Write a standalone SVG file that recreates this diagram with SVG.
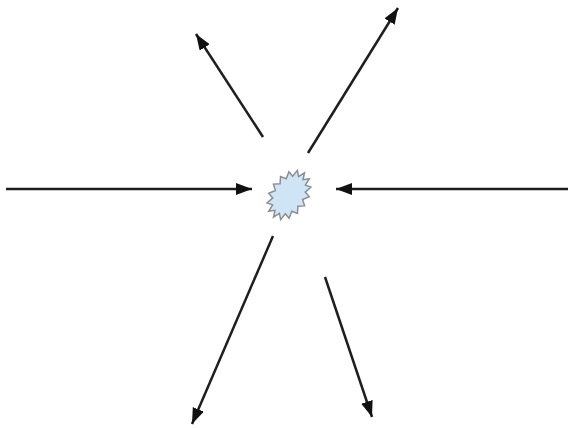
<svg xmlns="http://www.w3.org/2000/svg" width="571" height="428" viewBox="0 0 571 428">
  <style>
    .arrow { stroke: #1e1e1e; stroke-width: 2.5; fill: none; marker-end: url(#head); }
    .burst { fill: #cfe5f6; stroke: #8a8f94; stroke-width: 1.5; stroke-linejoin: miter; }
  </style>
  <defs>
    <marker id="head" markerUnits="userSpaceOnUse" markerWidth="18" markerHeight="14" refX="16" refY="6" orient="auto">
      <path d="M0,0 L16,6 L0,12 z" fill="#111"/>
    </marker>
  </defs>
  <rect width="571" height="428" fill="#ffffff"/>
  <g id="particle">
    <polygon class="burst" transform="translate(289,195) rotate(-55)" points="27,0 20.6,2.73 24.95,7.27 17.46,7.78 19.09,13.43 11.67,11.64 10.33,17.55 4.1,13.73 0,19 -4.1,13.73 -10.33,17.55 -11.67,11.64 -19.09,13.43 -17.46,7.78 -24.95,7.27 -20.6,2.73 -27,0 -20.6,-2.73 -24.95,-7.27 -17.46,-7.78 -19.09,-13.43 -11.67,-11.64 -10.33,-17.55 -4.1,-13.73 0,-19 4.1,-13.73 10.33,-17.55 11.67,-11.64 19.09,-13.43 17.46,-7.78 24.95,-7.27 20.6,-2.73"/>
  </g>
  <g id="connectors">
    <line class="arrow" x1="6" y1="189" x2="252" y2="189"/>
    <line class="arrow" x1="568" y1="189" x2="336" y2="189"/>
    <line class="arrow" x1="263" y1="137" x2="196" y2="34"/>
    <line class="arrow" x1="308" y1="153" x2="398" y2="8"/>
    <line class="arrow" x1="273" y1="236" x2="192" y2="424"/>
    <line class="arrow" x1="325" y1="277" x2="372" y2="417"/>
  </g>
</svg>
